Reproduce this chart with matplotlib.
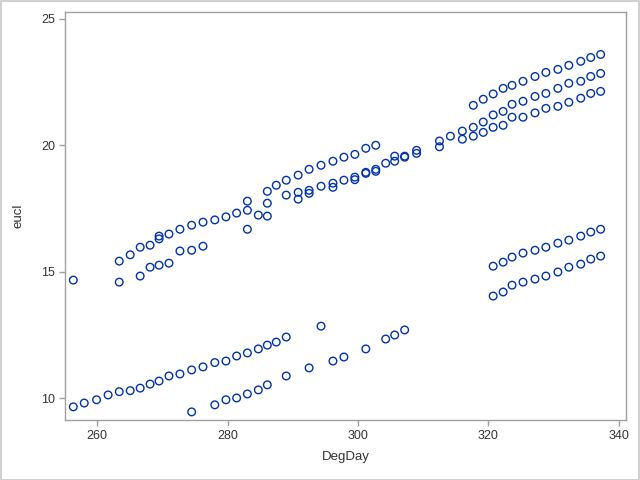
import matplotlib
matplotlib.use("Agg")
import matplotlib.pyplot as plt
import numpy as np
from matplotlib.patches import Rectangle

plt.rcParams.update({
    "font.family": ["Liberation Sans", "DejaVu Sans"],
    "font.size": 9,
})

# --- data (DegDay, eucl), grouped by band ---
low_a_x = [256.34, 258.02, 259.91, 261.68, 263.39, 265.07, 266.60, 268.12, 269.50, 271.02, 272.70,
           274.50, 276.24, 278.05, 279.76, 281.40, 283.05, 284.73, 286.11, 287.48, 289.01]
low_a_y = [9.66, 9.81, 9.94, 10.13, 10.26, 10.30, 10.40, 10.56, 10.68, 10.88, 10.96,
           11.12, 11.24, 11.41, 11.47, 11.67, 11.79, 11.95, 12.10, 12.22, 12.42]

low_b_x = [274.50, 278.05, 279.76, 281.40, 283.05, 284.73, 286.11, 289.01, 292.52, 294.35,
           296.18, 297.86, 301.22, 304.27, 305.65, 307.18]
low_b_y = [9.46, 9.74, 9.94, 10.01, 10.17, 10.33, 10.53, 10.88, 11.20, 12.85,
           11.47, 11.63, 11.95, 12.34, 12.50, 12.70]

mid_c_x = [256.34, 263.39, 266.60, 268.12, 269.50, 271.02, 272.70, 274.50, 276.24, 283.05, 284.73, 286.11]
mid_c_y = [14.67, 14.59, 14.83, 15.18, 15.26, 15.34, 15.82, 15.85, 16.01, 16.68, 17.24, 17.20]

mid_d_x = [263.39, 265.07, 266.60, 268.12, 269.50, 269.50, 271.02, 272.70, 274.50, 276.24, 278.05,
           279.76, 281.40, 283.05, 283.05, 286.11, 286.11, 287.48, 289.01, 289.01, 290.84, 290.84,
           290.84, 292.52, 292.52, 292.52, 294.35, 294.35, 296.18, 296.18, 296.18, 297.86, 297.86,
           299.54, 299.54, 299.54, 301.22, 301.22, 301.22, 302.75, 302.75, 302.75, 304.27, 305.65,
           305.65, 307.18, 307.18, 309.01, 309.01]
mid_d_y = [15.42, 15.67, 15.97, 16.05, 16.41, 16.30, 16.49, 16.68, 16.84, 16.96, 17.05,
           17.17, 17.32, 17.79, 17.43, 18.18, 17.71, 18.42, 18.62, 18.03, 18.82, 18.14,
           17.87, 19.05, 18.22, 18.10, 19.21, 18.38, 19.37, 18.50, 18.34, 19.53, 18.62,
           19.64, 18.74, 18.64, 19.88, 18.93, 18.89, 20.00, 19.05, 18.97, 19.29, 19.57,
           19.37, 19.57, 19.53, 19.80, 19.68]

up_x = [312.52, 312.52, 314.20, 316.03, 316.03,
        317.71, 317.71, 317.71, 319.24, 319.24, 319.24, 320.76, 320.76, 320.76,
        322.29, 322.29, 322.29, 323.66, 323.66, 323.66, 325.34, 325.34, 325.34,
        327.18, 327.18, 327.18, 328.85, 328.85, 328.85, 330.69, 330.69, 330.69,
        332.37, 332.37, 332.37, 334.20, 334.20, 334.20, 335.73, 335.73, 335.73,
        337.25, 337.25, 337.25]
up_y = [20.17, 19.94, 20.36, 20.56, 20.24,
        21.58, 20.71, 20.36, 21.82, 20.92, 20.51, 22.03, 21.20, 20.71,
        22.25, 21.34, 20.79, 22.37, 21.62, 21.11, 22.53, 21.74, 21.11,
        22.72, 21.93, 21.28, 22.88, 22.05, 21.46, 23.00, 22.25, 21.54,
        23.16, 22.45, 21.70, 23.32, 22.53, 21.86, 23.47, 22.72, 22.05,
        23.59, 22.84, 22.13]

right_x = [320.76, 322.29, 323.66, 325.34, 327.18, 328.85, 330.69, 332.37, 334.20, 335.73, 337.25]
right_hi_y = [15.22, 15.38, 15.58, 15.74, 15.85, 15.97, 16.13, 16.25, 16.41, 16.57, 16.68]
right_lo_y = [14.04, 14.20, 14.47, 14.59, 14.71, 14.83, 14.99, 15.18, 15.30, 15.50, 15.62]

x_ticks = [260, 280, 300, 320, 340]
y_ticks = [10, 15, 20, 25]

degday = np.concatenate([low_a_x, low_b_x, mid_c_x, mid_d_x, up_x, right_x, right_x])
eucl = np.concatenate([low_a_y, low_b_y, mid_c_y, mid_d_y, up_y, right_hi_y, right_lo_y])

marker_color = '#0033AA'
frame_color = '#A0A0A0'
text_color = '#333333'

fig = plt.figure(figsize=(6.4, 4.8), dpi=100)
ax = fig.add_axes([0.1016, 0.125, 0.8761, 0.8506])

ax.scatter(degday, eucl, s=30, facecolors='none', edgecolors=marker_color, linewidths=1.0)

ax.set_xlim(255.07, 341.1)
ax.set_ylim(9.14, 25.28)
ax.set_xticks(x_ticks)
ax.set_yticks(y_ticks)

for spine in ax.spines.values():
    spine.set_color(frame_color)
    spine.set_linewidth(1.0)
ax.tick_params(axis='both', direction='out', length=4, width=1, color=frame_color,
               labelcolor=text_color, labelsize=9, pad=3)

ax.set_xlabel('DegDay', fontsize=9.5, color=text_color, labelpad=7)
ax.set_ylabel('eucl', fontsize=9.5, color=text_color, labelpad=12)

# thin grey border round the whole picture
fig.patches.append(Rectangle((0.001, 0.001), 0.997, 0.997, transform=fig.transFigure,
                             fill=False, edgecolor='#C8C8C8', linewidth=1.2))

fig.savefig('out.png', dpi=100)
